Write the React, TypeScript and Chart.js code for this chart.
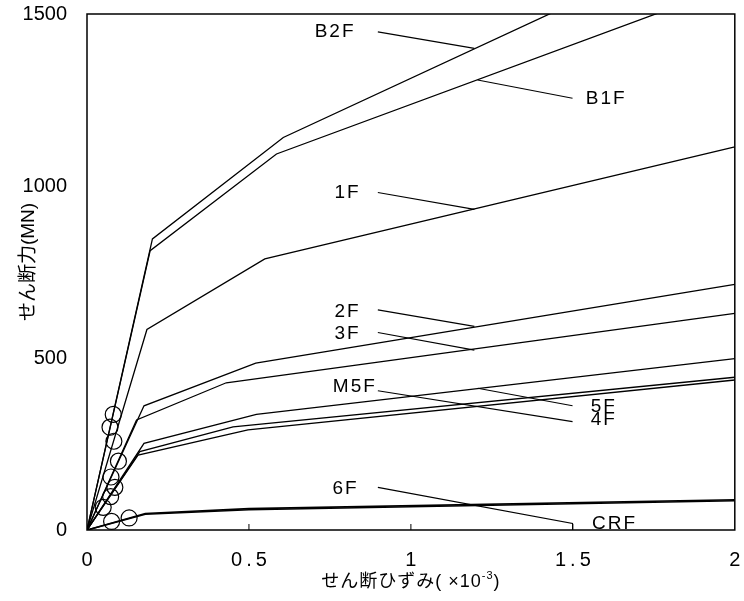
import React, { useEffect, useRef } from "react";
import { Chart, registerables } from "chart.js";

Chart.register(...registerables);

const LATIN = "'Liberation Sans', Arial, 'Noto Sans CJK JP', sans-serif";

// axis ticks
const xTicks = [0, 0.5, 1, 1.5, 2];
const yTicks = [0, 500, 1000, 1500];

// shear strain (x10^-3) vs shear force (MN), per floor
const strainB2F = [0, 0.202, 0.606, 2];
const shearB2F = [0, 846, 1141, 1750];
const strainB1F = [0, 0.195, 0.585, 2];
const shearB1F = [0, 812, 1093, 1585];
const strain1F = [0, 0.185, 0.549, 2];
const shear1F = [0, 583, 788, 1114];
const strain2F = [0, 0.176, 0.521, 2];
const shear2F = [0, 361, 485, 714];
const strain3F = [0, 0.153, 0.43, 2];
const shear3F = [0, 320, 428, 630];
const strain5F = [0, 0.176, 0.523, 2];
const shear5F = [0, 252, 336, 498];
const strainM5F = [0, 0.163, 0.451, 2];
const shearM5F = [0, 228, 300, 444];
const strain4F = [0, 0.158, 0.497, 2];
const shear4F = [0, 218, 291, 436];
const strain6F = [0, 0.18, 0.5, 2];
const shear6F = [0, 48, 62, 88];
const strainCRF = [0, 0.18, 0.5, 2];
const shearCRF = [0, 46, 59, 85];

// circled points on the initial slopes
const markStrain = [0.081, 0.071, 0.083, 0.097, 0.074, 0.086, 0.073, 0.05, 0.076, 0.13];
const markShear = [336, 299, 258, 200, 154, 124, 97, 66, 25, 35];

// floor labels (data coordinates of left edge / middle)
const labelText = ["B2F", "B1F", "1F", "2F", "3F", "M5F", "5F", "4F", "6F", "CRF"];
const labelStrain = [0.703, 1.54, 0.764, 0.764, 0.764, 0.759, 1.555, 1.555, 0.758, 1.559];
const labelShear = [1449, 1255, 979, 635, 570, 417, 358, 320, 119, 18];

// leader lines (data coordinates)
const leaders: number[][][] = [
  [[0.898, 1448], [1.196, 1400]],
  [[1.206, 1308], [1.499, 1255]],
  [[0.898, 981], [1.196, 932]],
  [[0.898, 640], [1.196, 592]],
  [[0.898, 574], [1.196, 523]],
  [[0.898, 405], [1.499, 315]],
  [[1.206, 412], [1.499, 361]],
  [[0.898, 124], [1.499, 19], [1.499, 0]],
];

const series: [number[], number[], number][] = [
  [strainB2F, shearB2F, 1.3],
  [strainB1F, shearB1F, 1.3],
  [strain1F, shear1F, 1.3],
  [strain2F, shear2F, 1.3],
  [strain3F, shear3F, 1.3],
  [strain5F, shear5F, 1.3],
  [strainM5F, shearM5F, 1.3],
  [strain4F, shear4F, 1.3],
  [strain6F, shear6F, 1.6],
  [strainCRF, shearCRF, 1.6],
];

const overlay = {
  id: "overlay",
  afterDraw(chart: any) {
    const { ctx, chartArea: a, scales } = chart;
    const xs = scales.x;
    const ys = scales.y;
    const px = (v: number) => xs.getPixelForValue(v);
    const py = (v: number) => ys.getPixelForValue(v);
    ctx.save();
    ctx.strokeStyle = "#000";
    ctx.fillStyle = "#000";

    // frame
    ctx.lineWidth = 1.5;
    ctx.strokeRect(a.left, a.top, a.right - a.left, a.bottom - a.top);

    // inner x ticks
    ctx.lineWidth = 1;
    xTicks.slice(1, -1).forEach((v) => {
      ctx.beginPath();
      ctx.moveTo(px(v), a.bottom);
      ctx.lineTo(px(v), a.bottom - 6);
      ctx.stroke();
    });

    // x tick labels
    ctx.font = `20px ${LATIN}`;
    ctx.textAlign = "center";
    ctx.textBaseline = "middle";
    (ctx as any).letterSpacing = "4px";
    xTicks.forEach((v) => {
      ctx.fillText(String(v), px(v) + 2, a.bottom + 30);
    });
    (ctx as any).letterSpacing = "1px";

    // x title with superscript
    const mainTxt = "せん断ひずみ( ×10";
    const supTxt = "-3";
    const endTxt = ")";
    const big = `18px ${LATIN}`;
    const small = `11px ${LATIN}`;
    ctx.font = big;
    const w1 = ctx.measureText(mainTxt).width;
    const w3 = ctx.measureText(endTxt).width;
    ctx.font = small;
    const w2 = ctx.measureText(supTxt).width;
    const total = w1 + w2 + w3;
    let tx = (a.left + a.right) / 2 - total / 2;
    const ty = 582;
    ctx.textAlign = "left";
    ctx.font = big;
    ctx.fillText(mainTxt, tx, ty);
    tx += w1;
    ctx.font = small;
    ctx.fillText(supTxt, tx, ty - 6);
    tx += w2;
    ctx.font = big;
    ctx.fillText(endTxt, tx, ty);

    // y title
    ctx.save();
    ctx.translate(28.5, 262);
    ctx.rotate(-Math.PI / 2);
    ctx.textAlign = "center";
    (ctx as any).letterSpacing = "0px";
    ctx.font = `19px ${LATIN}`;
    ctx.fillText("せん断力(MN)", 0, 0);
    ctx.restore();

    // leaders + floor labels, clipped to plot area
    ctx.save();
    ctx.beginPath();
    ctx.rect(a.left, a.top, a.right - a.left, a.bottom - a.top);
    ctx.clip();
    ctx.lineWidth = 1.1;
    leaders.forEach((pts) => {
      ctx.beginPath();
      pts.forEach(([x, y], i) => {
        if (i === 0) ctx.moveTo(px(x), py(y));
        else ctx.lineTo(px(x), py(y));
      });
      ctx.stroke();
    });
    ctx.font = `19px ${LATIN}`;
    ctx.textAlign = "left";
    ctx.textBaseline = "middle";
    (ctx as any).letterSpacing = "2px";
    labelText.forEach((t, i) => {
      ctx.fillText(t, px(labelStrain[i]), py(labelShear[i]));
    });
    (ctx as any).letterSpacing = "0px";
    ctx.restore();

    ctx.restore();
  },
};

export default function App() {
  const ref = useRef<HTMLCanvasElement | null>(null);

  useEffect(() => {
    document.body.style.margin = "0";
    const canvas = ref.current;
    if (!canvas) return;

    const datasets: any[] = series.map(([xsArr, ysArr, bw], i) => ({
      label: labelText[i],
      data: xsArr.map((x, k) => ({ x, y: ysArr[k] })),
      showLine: true,
      borderColor: "#000",
      backgroundColor: "#000",
      borderWidth: bw,
      pointRadius: 0,
      tension: 0,
    }));
    datasets.push({
      label: "marks",
      data: markStrain.map((x, k) => ({ x, y: markShear[k] })),
      showLine: false,
      pointStyle: "circle",
      pointRadius: 8,
      pointBorderWidth: 1.2,
      borderColor: "#000",
      backgroundColor: "rgba(0,0,0,0)",
      clip: false,
    });

    const chart = new Chart(canvas, {
      type: "scatter",
      data: { datasets },
      options: {
        animation: false,
        responsive: false,
        devicePixelRatio: 1,
        events: [],
        layout: { padding: { top: 14, right: 8, left: 0, bottom: 0 } },
        plugins: { legend: { display: false }, tooltip: { enabled: false } },
        scales: {
          x: {
            type: "linear",
            min: xTicks[0],
            max: xTicks[xTicks.length - 1],
            ticks: { display: false, stepSize: 0.5 },
            grid: { display: false, drawTicks: false },
            border: { display: false },
            afterFit: (s: any) => {
              s.height = 71;
              s.paddingLeft = 0;
              s.paddingRight = 0;
            },
          },
          y: {
            type: "linear",
            min: yTicks[0],
            max: yTicks[yTicks.length - 1],
            afterBuildTicks: (s: any) => {
              s.ticks = yTicks.map((v) => ({ value: v }));
            },
            ticks: {
              color: "#000",
              font: { family: LATIN, size: 20 },
              padding: 20,
              callback: (v: any) => String(v),
            },
            grid: { display: false, drawTicks: false },
            border: { display: false },
            afterFit: (s: any) => {
              s.width = 87;
              s.paddingTop = 0;
              s.paddingBottom = 0;
            },
          },
        },
      },
      plugins: [overlay],
    });

    return () => chart.destroy();
  }, []);

  return (
    <div style={{ width: 744, height: 601, background: "#fff" }}>
      <canvas ref={ref} width={744} height={601} />
    </div>
  );
}
